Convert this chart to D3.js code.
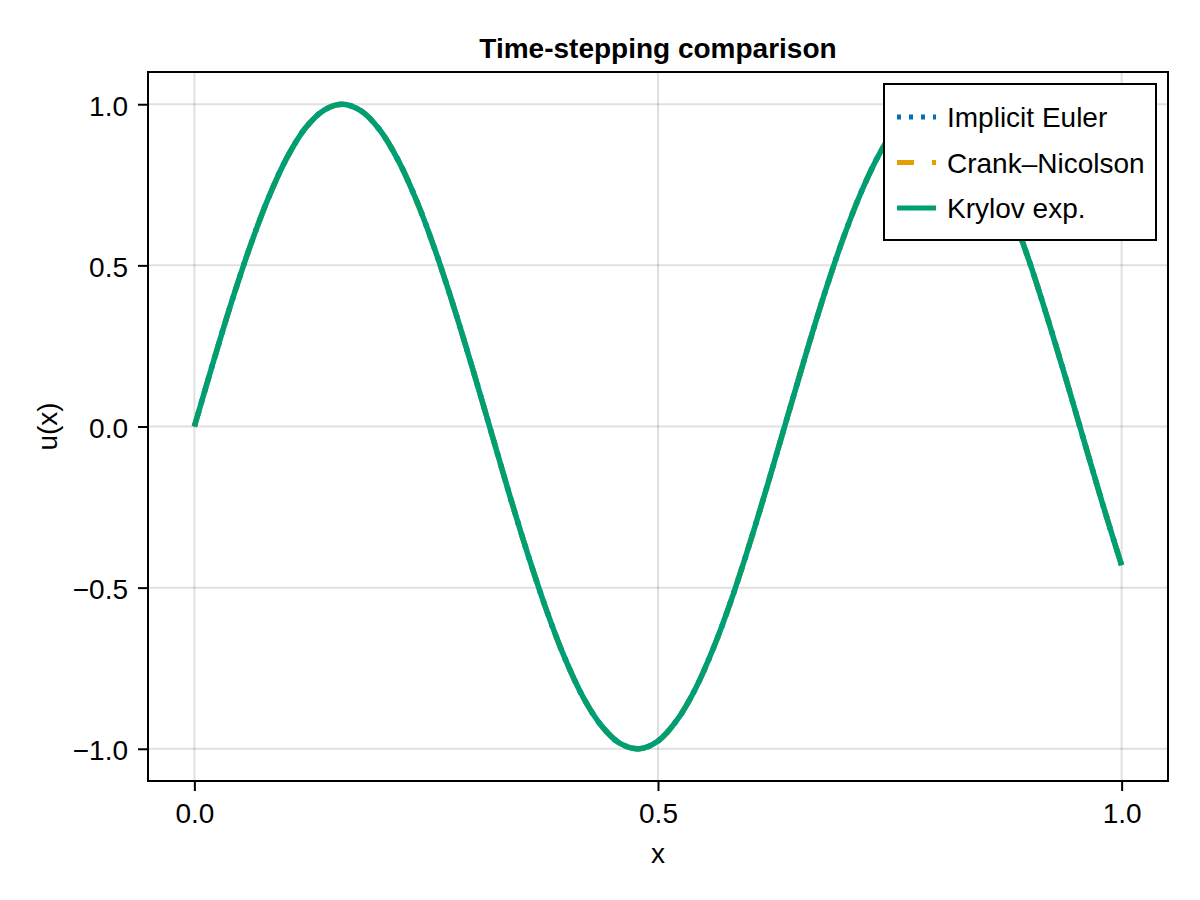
<!DOCTYPE html>
<html>
<head>
<meta charset="utf-8">
<script src="https://cdn.jsdelivr.net/npm/d3@7"></script>
<style>
  html, body { margin: 0; padding: 0; background: #fff; }
  svg text { font-family: "Liberation Sans", Arial, Helvetica, sans-serif; fill: #000; }
</style>
</head>
<body>
<svg id="chart" width="1200" height="900"></svg>
<script>
// ---- data ----
const xValues = [0.00, 0.02, 0.04, 0.06, 0.08, 0.10, 0.12, 0.14, 0.16, 0.18, 0.20, 0.22, 0.24, 0.26, 0.28, 0.30,
                 0.32, 0.34, 0.36, 0.38, 0.40, 0.42, 0.44, 0.46, 0.48, 0.50, 0.52, 0.54, 0.56, 0.58, 0.60, 0.62,
                 0.64, 0.66, 0.68, 0.70, 0.72, 0.74, 0.76, 0.78, 0.80, 0.82, 0.84, 0.86, 0.88, 0.90, 0.92, 0.94,
                 0.96, 0.98, 1.00];
const implicitEuler = [0.000, 0.196, 0.385, 0.558, 0.710, 0.835, 0.927, 0.982, 1.000, 0.979, 0.920, 0.825, 0.698, 0.544, 0.369, 0.180,
                       -0.016, -0.213, -0.400, -0.572, -0.722, -0.844, -0.932, -0.985, -1.000, -0.976, -0.913, -0.816, -0.686, -0.530, -0.353, -0.163,
                       0.034, 0.229, 0.416, 0.586, 0.733, 0.852, 0.939, 0.988, 0.999, 0.971, 0.906, 0.806, 0.673, 0.516, 0.337, 0.147,
                       -0.050, -0.245, -0.431];
const crankNicolson = [0.000, 0.196, 0.385, 0.558, 0.710, 0.835, 0.927, 0.982, 1.000, 0.979, 0.920, 0.825, 0.698, 0.544, 0.369, 0.180,
                       -0.016, -0.213, -0.400, -0.572, -0.722, -0.844, -0.932, -0.985, -1.000, -0.976, -0.913, -0.816, -0.686, -0.530, -0.353, -0.163,
                       0.034, 0.229, 0.416, 0.586, 0.733, 0.852, 0.939, 0.988, 0.999, 0.971, 0.906, 0.806, 0.673, 0.516, 0.337, 0.147,
                       -0.050, -0.245, -0.431];
const krylovExp = [0.000, 0.196, 0.385, 0.558, 0.710, 0.835, 0.927, 0.982, 1.000, 0.979, 0.920, 0.825, 0.698, 0.544, 0.369, 0.180,
                   -0.016, -0.213, -0.400, -0.572, -0.722, -0.844, -0.932, -0.985, -1.000, -0.976, -0.913, -0.816, -0.686, -0.530, -0.353, -0.163,
                   0.034, 0.229, 0.416, 0.586, 0.733, 0.852, 0.939, 0.988, 0.999, 0.971, 0.906, 0.806, 0.673, 0.516, 0.337, 0.147,
                   -0.050, -0.245, -0.431];
const seriesNames = ["Implicit Euler", "Crank\u2013Nicolson", "Krylov exp."];
const seriesColors = ["#0072B2", "#E69F00", "#009E73"];
const seriesDash = ["4,8", "17,18", null];
const xTicks = [0.0, 0.5, 1.0];
const yTicks = [-1.0, -0.5, 0.0, 0.5, 1.0];
const titleText = "Time-stepping comparison";
const xLabel = "x";
const yLabel = "u(x)";

// ---- layout ----
const svg = d3.select("#chart");
const plot = { left: 148, right: 1168, top: 72, bottom: 781 };
const fs = 28;
const lw = 5.5;

const x = d3.scaleLinear().domain([-0.05, 1.05]).range([plot.left, plot.right]);
const y = d3.scaleLinear().domain([-1.1, 1.1]).range([plot.bottom, plot.top]);

svg.append("rect").attr("width", 1200).attr("height", 900).attr("fill", "#fff");

// grid
const grid = svg.append("g");
grid.selectAll(".gx").data(xTicks).enter().append("line")
  .attr("x1", d => x(d)).attr("x2", d => x(d))
  .attr("y1", plot.top).attr("y2", plot.bottom)
  .attr("stroke", "rgba(0,0,0,0.12)").attr("stroke-width", 2);
grid.selectAll(".gy").data(yTicks).enter().append("line")
  .attr("x1", plot.left).attr("x2", plot.right)
  .attr("y1", d => y(d)).attr("y2", d => y(d))
  .attr("stroke", "rgba(0,0,0,0.12)").attr("stroke-width", 2);

// series
const series = [implicitEuler, crankNicolson, krylovExp];
const line = d3.line()
  .x((d, i) => x(xValues[i]))
  .y(d => y(d))
  .curve(d3.curveCatmullRom.alpha(0.5));
svg.append("clipPath").attr("id", "clip").append("rect")
  .attr("x", plot.left).attr("y", plot.top)
  .attr("width", plot.right - plot.left).attr("height", plot.bottom - plot.top);
const lines = svg.append("g").attr("clip-path", "url(#clip)");
series.forEach((s, i) => {
  lines.append("path").datum(s)
    .attr("d", line)
    .attr("fill", "none")
    .attr("stroke", seriesColors[i])
    .attr("stroke-width", lw)
    .attr("stroke-linejoin", "round")
    .attr("stroke-dasharray", seriesDash[i]);
});

// axes
const xAxis = d3.axisBottom(x).tickValues(xTicks).tickFormat(d3.format(".1f")).tickSize(10).tickPadding(12);
const yAxis = d3.axisLeft(y).tickValues(yTicks)
  .tickFormat(d => d3.format(".1f")(d).replace("-", "\u2212")).tickSize(10).tickPadding(10);

const gx = svg.append("g").attr("transform", `translate(0,${plot.bottom})`).call(xAxis);
const gy = svg.append("g").attr("transform", `translate(${plot.left},0)`).call(yAxis);
[gx, gy].forEach(g => {
  g.select(".domain").remove();
  g.selectAll(".tick line").attr("stroke", "#000").attr("stroke-width", 2);
  g.selectAll(".tick text").attr("font-size", fs).attr("font-family", null).attr("fill", "#000");
});
gy.selectAll(".tick text").attr("dy", "0.36em").attr("y", 1);

// frame
svg.append("rect")
  .attr("x", plot.left).attr("y", plot.top)
  .attr("width", plot.right - plot.left).attr("height", plot.bottom - plot.top)
  .attr("fill", "none").attr("stroke", "#000").attr("stroke-width", 2);

// title and labels
svg.append("text").attr("x", (plot.left + plot.right) / 2).attr("y", 58)
  .attr("text-anchor", "middle").attr("font-size", fs).attr("font-weight", "bold").text(titleText);
svg.append("text").attr("x", (plot.left + plot.right) / 2).attr("y", 863)
  .attr("text-anchor", "middle").attr("font-size", fs).text(xLabel);
svg.append("text").attr("transform", `translate(57,${(plot.top + plot.bottom) / 2}) rotate(-90)`)
  .attr("text-anchor", "middle").attr("font-size", fs).text(yLabel);

// legend
const leg = svg.append("g");
leg.append("rect").attr("x", 884).attr("y", 84).attr("width", 272).attr("height", 156)
  .attr("fill", "#fff").attr("stroke", "#000").attr("stroke-width", 2);
const rowY = d3.scalePoint().domain(seriesNames).range([117, 208]);
seriesNames.forEach((name, i) => {
  leg.append("line").attr("x1", 897).attr("x2", 936)
    .attr("y1", rowY(name)).attr("y2", rowY(name))
    .attr("stroke", seriesColors[i]).attr("stroke-width", 5)
    .attr("stroke-dasharray", seriesDash[i]);
  leg.append("text").attr("x", 947).attr("y", rowY(name)).attr("dy", "0.36em")
    .attr("font-size", fs).text(name);
});
</script>
</body>
</html>
